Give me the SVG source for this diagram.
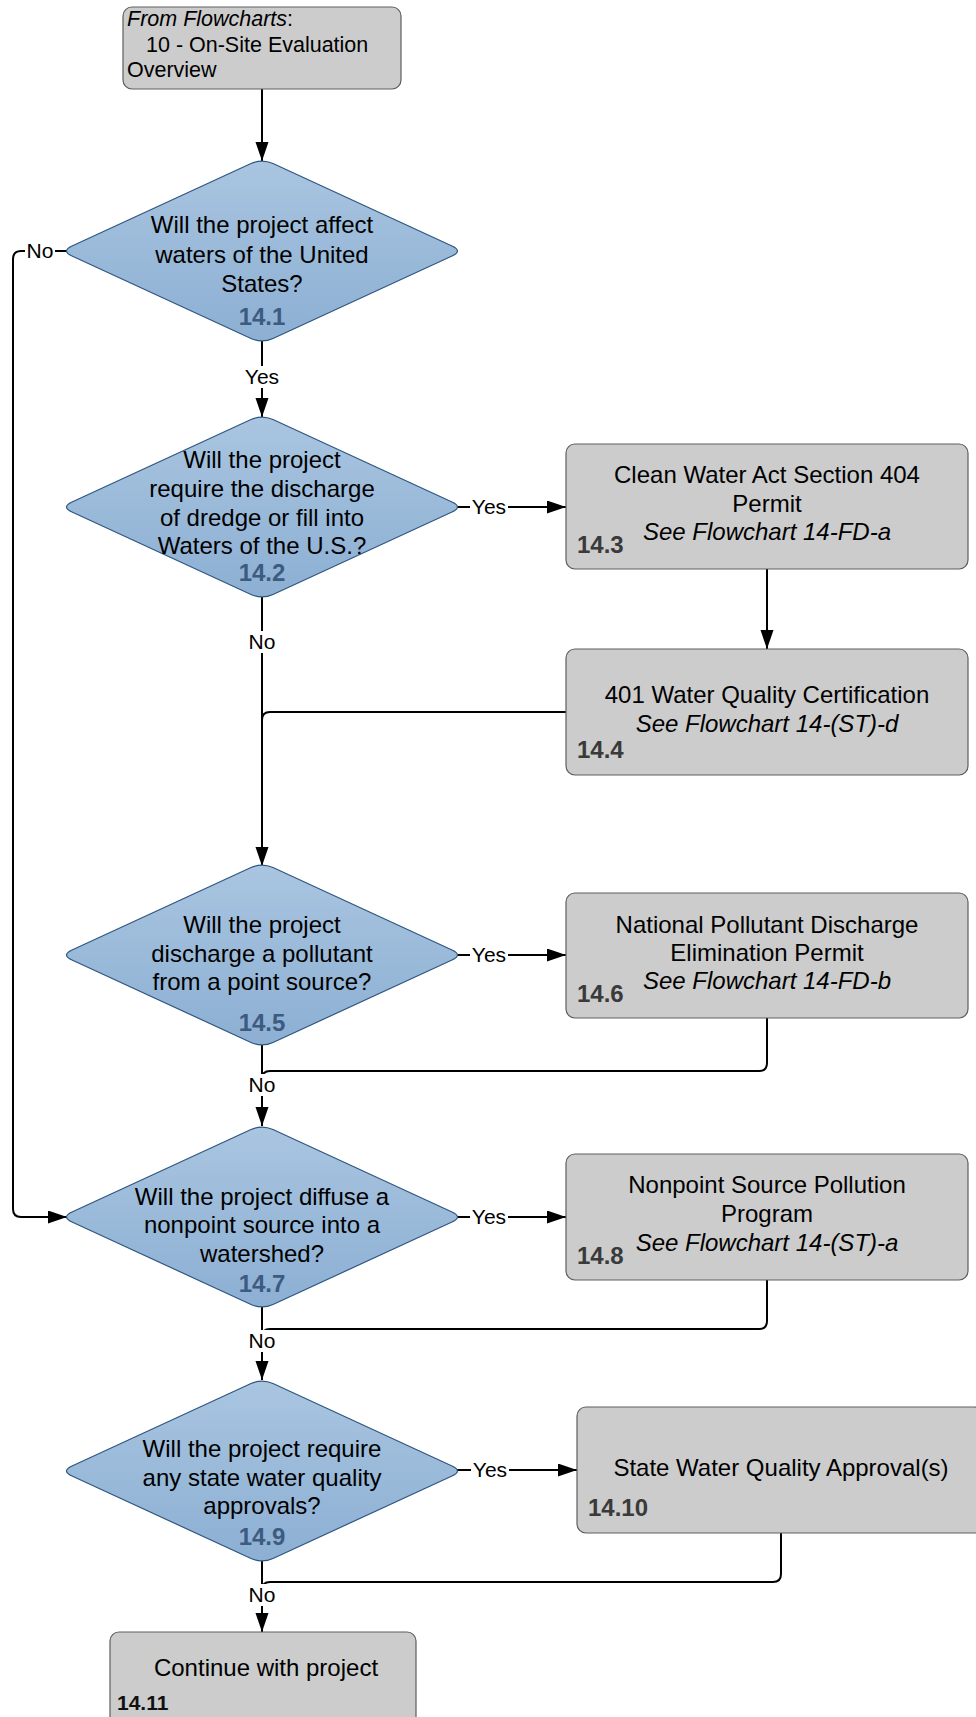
<svg xmlns="http://www.w3.org/2000/svg" width="976" height="1717" viewBox="0 0 976 1717">
<style>
text{font-family:"Liberation Sans",Arial,sans-serif;fill:#000}
.t{font-size:24px;text-anchor:middle}
.i{font-style:italic}
.n{font-size:24px;font-weight:bold;fill:#3a3a3a}
.dn{font-size:24px;font-weight:bold;fill:#3d5b80;text-anchor:middle}
.lb{font-size:21px;text-anchor:middle}
.box{fill:#cccccc;stroke:#5e5e5e;stroke-width:1.2}
.dia{fill:url(#dg);stroke:#2f5680;stroke-width:1.2}
.c{fill:none;stroke:#000;stroke-width:2}
.a{marker-end:url(#ah)}
.bg{fill:#fff}
</style>
<defs>
<linearGradient id="dg" x1="0" y1="0" x2="0" y2="1">
<stop offset="0" stop-color="#a9c5e0"/>
<stop offset="1" stop-color="#8cafd3"/>
</linearGradient>
<path id="dshape" d="M -190,-5.06 L -11,-87.44 Q 0,-92.5 11,-87.44 L 190,-5.06 Q 201,0 190,5.06 L 11,87.44 Q 0,92.5 -11,87.44 L -190,5.06 Q -201,0 -190,-5.06 Z"/>
<marker id="ah" markerUnits="userSpaceOnUse" markerWidth="20" markerHeight="14" refX="19" refY="6.5" orient="auto">
<path d="M0,0 L19,6.5 L0,13 Z" fill="#000"/>
</marker>
</defs>

<g id="connectors">
<path class="c a" d="M262,89 L262,161"/>
<path class="c a" d="M262,341 L262,417"/>
<path class="c a" d="M67,251 L21,251 Q13,251 13,259 L13,1209 Q13,1217 21,1217 L67,1217"/>
<path class="c a" d="M457,507 L566,507"/>
<path class="c a" d="M262,597 L262,866"/>
<path class="c a" d="M767,569 L767,649"/>
<path class="c" d="M566,712 L270,712 Q262,712 262,720"/>
<path class="c a" d="M457,955 L566,955"/>
<path class="c" d="M767,1018 L767,1063 Q767,1071 759,1071 L270,1071 Q262,1071 262,1079"/>
<path class="c a" d="M262,1045 L262,1126"/>
<path class="c a" d="M457,1217 L566,1217"/>
<path class="c" d="M767,1280 L767,1321 Q767,1329 759,1329 L270,1329 Q262,1329 262,1337"/>
<path class="c a" d="M262,1307 L262,1380"/>
<path class="c a" d="M457,1470 L577,1470"/>
<path class="c" d="M781,1533 L781,1574 Q781,1582 773,1582 L270,1582 Q262,1582 262,1590"/>
<path class="c a" d="M262,1561 L262,1632"/>
<g id="labels">
<rect class="bg" x="243" y="366" width="38" height="22"/><text class="lb" x="262" y="384">Yes</text>
<rect class="bg" x="25" y="240" width="30" height="22"/><text class="lb" x="40" y="258">No</text>
<rect class="bg" x="470" y="496" width="38" height="22"/><text class="lb" x="489" y="514">Yes</text>
<rect class="bg" x="247" y="631" width="30" height="22"/><text class="lb" x="262" y="649">No</text>
<rect class="bg" x="470" y="944" width="38" height="22"/><text class="lb" x="489" y="962">Yes</text>
<rect class="bg" x="247" y="1074" width="30" height="22"/><text class="lb" x="262" y="1092">No</text>
<rect class="bg" x="470" y="1206" width="38" height="22"/><text class="lb" x="489" y="1224">Yes</text>
<rect class="bg" x="247" y="1330" width="30" height="22"/><text class="lb" x="262" y="1348">No</text>
<rect class="bg" x="471" y="1459" width="38" height="22"/><text class="lb" x="490" y="1477">Yes</text>
<rect class="bg" x="247" y="1584" width="30" height="22"/><text class="lb" x="262" y="1602">No</text>
</g>
</g>

<g id="start">
<rect class="box" x="123" y="7" width="278" height="82" rx="9"/>
<text x="127" y="26" style="font-size:21.5px"><tspan class="i">From Flowcharts</tspan>:</text>
<text x="146" y="52" style="font-size:21.5px">10 - On-Site Evaluation</text>
<text x="127" y="77" style="font-size:21.5px">Overview</text>
</g>

<g id="n14_1">
<use href="#dshape" class="dia" transform="translate(262,251)"/>
<text class="t" x="262" y="233">Will the project affect</text>
<text class="t" x="262" y="263">waters of the United</text>
<text class="t" x="262" y="292">States?</text>
<text class="dn" x="262" y="325">14.1</text>
</g>

<g id="n14_2">
<use href="#dshape" class="dia" transform="translate(262,507)"/>
<text class="t" x="262" y="468">Will the project</text>
<text class="t" x="262" y="497">require the discharge</text>
<text class="t" x="262" y="526">of dredge or fill into</text>
<text class="t" x="262" y="554">Waters of the U.S.?</text>
<text class="dn" x="262" y="581">14.2</text>
</g>

<g id="n14_3">
<rect class="box" x="566" y="444" width="402" height="125" rx="9"/>
<text class="t" x="767" y="483">Clean Water Act Section 404</text>
<text class="t" x="767" y="512">Permit</text>
<text class="t i" x="767" y="540">See Flowchart 14-FD-a</text>
<text class="n" x="577" y="553">14.3</text>
</g>

<g id="n14_4">
<rect class="box" x="566" y="649" width="402" height="126" rx="9"/>
<text class="t" x="767" y="703">401 Water Quality Certification</text>
<text class="t i" x="767" y="732">See Flowchart 14-(ST)-d</text>
<text class="n" x="577" y="758">14.4</text>
</g>

<g id="n14_5">
<use href="#dshape" class="dia" transform="translate(262,955)"/>
<text class="t" x="262" y="933">Will the project</text>
<text class="t" x="262" y="962">discharge a pollutant</text>
<text class="t" x="262" y="990">from a point source?</text>
<text class="dn" x="262" y="1031">14.5</text>
</g>

<g id="n14_6">
<rect class="box" x="566" y="893" width="402" height="125" rx="9"/>
<text class="t" x="767" y="933">National Pollutant Discharge</text>
<text class="t" x="767" y="961">Elimination Permit</text>
<text class="t i" x="767" y="989">See Flowchart 14-FD-b</text>
<text class="n" x="577" y="1002">14.6</text>
</g>

<g id="n14_7">
<use href="#dshape" class="dia" transform="translate(262,1217)"/>
<text class="t" x="262" y="1205">Will the project diffuse a</text>
<text class="t" x="262" y="1233">nonpoint source into a</text>
<text class="t" x="262" y="1262">watershed?</text>
<text class="dn" x="262" y="1292">14.7</text>
</g>

<g id="n14_8">
<rect class="box" x="566" y="1154" width="402" height="126" rx="9"/>
<text class="t" x="767" y="1193">Nonpoint Source Pollution</text>
<text class="t" x="767" y="1222">Program</text>
<text class="t i" x="767" y="1251">See Flowchart 14-(ST)-a</text>
<text class="n" x="577" y="1264">14.8</text>
</g>

<g id="n14_9">
<use href="#dshape" class="dia" transform="translate(262,1471)"/>
<text class="t" x="262" y="1457">Will the project require</text>
<text class="t" x="262" y="1486">any state water quality</text>
<text class="t" x="262" y="1514">approvals?</text>
<text class="dn" x="262" y="1545">14.9</text>
</g>

<g id="n14_10">
<rect class="box" x="577" y="1407" width="406" height="126" rx="9"/>
<text class="t" x="781" y="1476">State Water Quality Approval(s)</text>
<text class="n" x="588" y="1516">14.10</text>
</g>

<g id="n14_11">
<rect class="box" x="110" y="1632" width="306" height="100" rx="9"/>
<text class="t" x="266" y="1676">Continue with project</text>
<text class="n" x="117" y="1710" style="font-size:21px;fill:#111">14.11</text>
</g>
</svg>
